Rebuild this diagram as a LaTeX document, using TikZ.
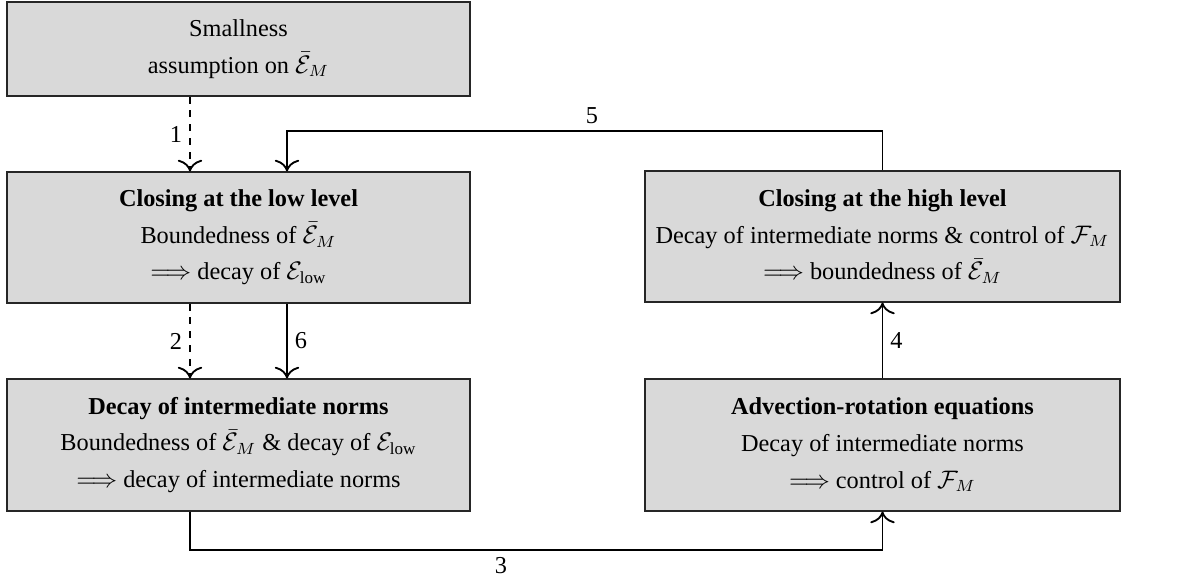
\documentclass[tikz,border=0pt]{standalone}
\usepackage{amsmath}
\usepackage[no-math]{fontspec}
\setmainfont{Liberation Serif}
\usetikzlibrary{calc,arrows.meta}
\begin{document}
\begin{tikzpicture}[x=0.01519cm,y=-0.01519cm,
  box/.style={draw=black!85,line width=0.5pt,fill=black!15,
    align=center,inner sep=0pt,font=\fontsize{10.5}{15.8}\selectfont},
  conn/.style={-{To[scale=1.5]},line width=0.8pt},
  lab/.style={font=\fontsize{10.5}{12}\selectfont,inner sep=3pt}]
\useasboundingbox (0,0) rectangle (1185,582);
\node[box,minimum width=463*0.01519cm,minimum height=94*0.01519cm] (A) at (238.5,49)
  {Smallness\\assumption on $\bar{\mathcal{E}}_M$};
\node[box,minimum width=463*0.01519cm,minimum height=131*0.01519cm] (B) at (238.5,237.5)
  {\textbf{Closing at the low level}\\Boundedness of $\bar{\mathcal{E}}_M$\\$\Longrightarrow$ decay of $\mathcal{E}_{\text{low}}$};
\node[box,minimum width=463*0.01519cm,minimum height=132*0.01519cm] (C) at (238.5,445)
  {\textbf{Decay of intermediate norms}\\Boundedness of $\bar{\mathcal{E}}_M$ \& decay of $\mathcal{E}_{\text{low}}$\\$\Longrightarrow$ decay of intermediate norms};
\node[box,minimum width=475*0.01519cm,minimum height=131*0.01519cm] (D) at (882.5,236.5)
  {\textbf{Closing at the high level}\\Decay of intermediate norms \& control of $\mathcal{F}_M$\\$\Longrightarrow$ boundedness of $\bar{\mathcal{E}}_M$};
\node[box,minimum width=475*0.01519cm,minimum height=132*0.01519cm] (E) at (882.5,445)
  {\textbf{Advection-rotation equations}\\Decay of intermediate norms\\$\Longrightarrow$ control of $\mathcal{F}_M$};
\coordinate (xl) at (190,0);
\coordinate (xr) at (287,0);
\draw[conn,dashed] (A.south -| xl) -- node[lab,left]{1} (B.north -| xl);
\draw[conn,dashed] (B.south -| xl) -- node[lab,left]{2} (C.north -| xl);
\draw[conn] (B.south -| xr) -- node[lab,right]{6} (C.north -| xr);
\draw[conn] (E.north) -- node[lab,right]{4} (D.south);
\draw[conn] (D.north) -- ++(0,-39) -| node[lab,pos=0.244,above]{5} (B.north -| xr);
\draw[conn] (C.south -| xl) -- ++(0,38) -| node[lab,pos=0.2245,below]{3} (E.south);
\end{tikzpicture}
\end{document}
